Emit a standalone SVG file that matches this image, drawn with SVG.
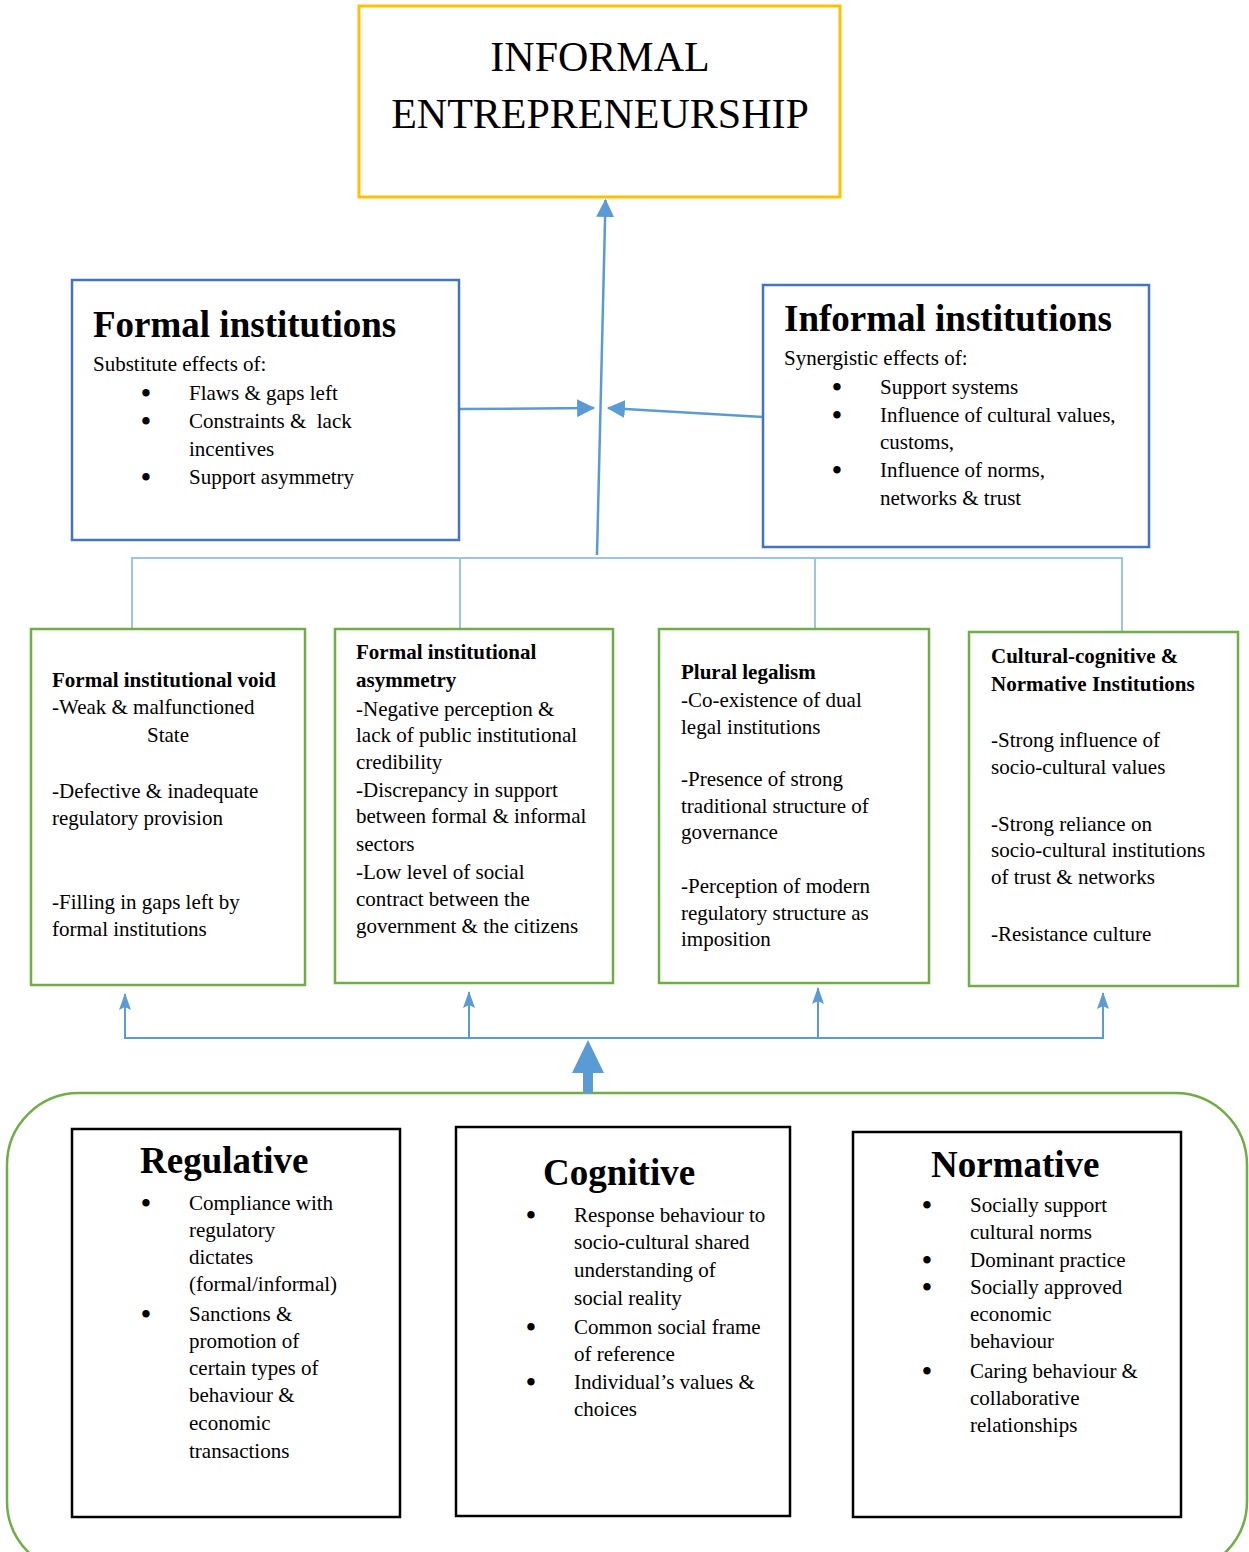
<svg xmlns="http://www.w3.org/2000/svg" width="1249" height="1552" viewBox="0 0 1249 1552">
<style>
text{font-family:"Liberation Serif","Times New Roman",serif;fill:#000;}
.t{font-size:21px;}
.b{font-weight:bold;}
.h{font-size:37px;font-weight:bold;}
.top{font-size:42px;}
.bu{font-size:31px;text-anchor:middle;}
.blue{fill:#fff;stroke:#4472C4;stroke-width:2.5;}
.green{fill:#fff;stroke:#70AD47;stroke-width:2.5;}
.black{fill:#fff;stroke:#000;stroke-width:2.5;}
.conn{stroke:#5B9BD5;stroke-width:2.5;fill:none;}
.thin{stroke:#5B9BD5;stroke-width:2;fill:none;}
.light{stroke:#9DC3E6;stroke-width:2;fill:none;}
</style>
<defs>
<marker id="ah" markerUnits="userSpaceOnUse" markerWidth="18" markerHeight="18" viewBox="0 0 16 16" refX="15" refY="8" orient="auto">
<path d="M0,0 L16,8 L0,16 Z" fill="#5B9BD5"/>
</marker>
<marker id="ahs" markerUnits="userSpaceOnUse" markerWidth="17" markerHeight="12" viewBox="0 0 17 12" refX="16" refY="6" orient="auto">
<path d="M0,0 L17,6 L0,12 L3,6 Z" fill="#5B9BD5"/>
</marker>
</defs>
<rect x="7" y="1093" width="1240" height="480" rx="72" ry="72" fill="none" stroke="#70AD47" stroke-width="2.5"/>
<g id="connectors">
<line class="conn" x1="597" y1="555" x2="605.5" y2="200" marker-end="url(#ah)"/>
<line class="conn" x1="460" y1="409" x2="594" y2="408" marker-end="url(#ah)"/>
<line class="conn" x1="763" y1="417" x2="608" y2="408" marker-end="url(#ah)"/>
<polyline class="light" points="132,628 132,558 1122,558 1122,632"/>
<line class="light" x1="460" y1="558" x2="460" y2="628"/>
<line class="light" x1="815" y1="558" x2="815" y2="628"/>
<polyline class="thin" points="125,1000 125,1038 1103,1038 1103,1000"/>
<line class="thin" x1="125" y1="1010" x2="125" y2="994" marker-end="url(#ahs)"/>
<line class="thin" x1="469" y1="1038" x2="469" y2="992" marker-end="url(#ahs)"/>
<line class="thin" x1="818" y1="1038" x2="818" y2="988" marker-end="url(#ahs)"/>
<line class="thin" x1="1103" y1="1010" x2="1103" y2="993" marker-end="url(#ahs)"/>
<path d="M583,1093 L583,1073 L572,1073 L588,1040 L604,1073 L593,1073 L593,1093 Z" fill="#5B9BD5"/>
</g>
<g id="informal-entrepreneurship">
<rect x="359" y="6" width="481" height="191" fill="#fff" stroke="#FFC000" stroke-width="3"/>
<text class="top" x="600" y="71" text-anchor="middle">INFORMAL</text>
<text class="top" x="600" y="128" text-anchor="middle">ENTREPRENEURSHIP</text>
</g>
<g id="formal-institutions">
<rect class="blue" x="72" y="280" width="387" height="260"/>
<text class="h" x="93" y="337">Formal institutions</text>
<text class="t" x="93" y="371">Substitute effects of:</text>
<text class="bu" x="146" y="404">•</text><text class="t" x="189" y="400">Flaws &amp; gaps left</text>
<text class="bu" x="146" y="432">•</text><text class="t" x="189" y="428" xml:space="preserve">Constraints &amp;  lack</text>
<text class="t" x="189" y="456">incentives</text>
<text class="bu" x="146" y="488">•</text><text class="t" x="189" y="484">Support asymmetry</text>
</g>
<g id="informal-institutions">
<rect class="blue" x="763" y="285" width="386" height="262"/>
<text class="h" x="784" y="331">Informal institutions</text>
<text class="t" x="784" y="365">Synergistic effects of:</text>
<text class="bu" x="837" y="398">•</text><text class="t" x="880" y="394">Support systems</text>
<text class="bu" x="837" y="426">•</text><text class="t" x="880" y="422">Influence of cultural values,</text>
<text class="t" x="880" y="449">customs,</text>
<text class="bu" x="837" y="481">•</text><text class="t" x="880" y="477">Influence of norms,</text>
<text class="t" x="880" y="505">networks &amp; trust</text>
</g>
<g id="institutional-void">
<rect class="green" x="31" y="629" width="274" height="356"/>
<text class="t b" x="52" y="687">Formal institutional void</text>
<text class="t" x="52" y="714">-Weak &amp; malfunctioned</text>
<text class="t" x="168" y="742" text-anchor="middle">State</text>
<text class="t" x="52" y="798">-Defective &amp; inadequate</text>
<text class="t" x="52" y="825">regulatory provision</text>
<text class="t" x="52" y="909">-Filling in gaps left by</text>
<text class="t" x="52" y="936">formal institutions</text>
</g>
<g id="institutional-asymmetry">
<rect class="green" x="335" y="629" width="278" height="354"/>
<text class="t b" x="356" y="659">Formal institutional</text>
<text class="t b" x="356" y="687">asymmetry</text>
<text class="t" x="356" y="716">-Negative perception &amp;</text>
<text class="t" x="356" y="742">lack of public institutional</text>
<text class="t" x="356" y="769">credibility</text>
<text class="t" x="356" y="797">-Discrepancy in support</text>
<text class="t" x="356" y="823">between formal &amp; informal</text>
<text class="t" x="356" y="851">sectors</text>
<text class="t" x="356" y="879">-Low level of social</text>
<text class="t" x="356" y="906">contract between the</text>
<text class="t" x="356" y="933">government &amp; the citizens</text>
</g>
<g id="plural-legalism">
<rect class="green" x="659" y="629" width="270" height="354"/>
<text class="t b" x="681" y="679">Plural legalism</text>
<text class="t" x="681" y="707">-Co-existence of dual</text>
<text class="t" x="681" y="734">legal institutions</text>
<text class="t" x="681" y="786">-Presence of strong</text>
<text class="t" x="681" y="813">traditional structure of</text>
<text class="t" x="681" y="839">governance</text>
<text class="t" x="681" y="893">-Perception of modern</text>
<text class="t" x="681" y="920">regulatory structure as</text>
<text class="t" x="681" y="946">imposition</text>
</g>
<g id="cultural-cognitive">
<rect class="green" x="969" y="632" width="269" height="354"/>
<text class="t b" x="991" y="663">Cultural-cognitive &amp;</text>
<text class="t b" x="991" y="691">Normative Institutions</text>
<text class="t" x="991" y="747">-Strong influence of</text>
<text class="t" x="991" y="774">socio-cultural values</text>
<text class="t" x="991" y="831">-Strong reliance on</text>
<text class="t" x="991" y="857">socio-cultural institutions</text>
<text class="t" x="991" y="884">of trust &amp; networks</text>
<text class="t" x="991" y="941">-Resistance culture</text>
</g>
<g id="regulative">
<rect class="black" x="72" y="1129" width="328" height="388"/>
<text class="h" x="140" y="1173">Regulative</text>
<text class="bu" x="146" y="1214">•</text><text class="t" x="189" y="1210">Compliance with</text>
<text class="t" x="189" y="1237">regulatory</text>
<text class="t" x="189" y="1264">dictates</text>
<text class="t" x="189" y="1291">(formal/informal)</text>
<text class="bu" x="146" y="1325">•</text><text class="t" x="189" y="1321">Sanctions &amp;</text>
<text class="t" x="189" y="1348">promotion of</text>
<text class="t" x="189" y="1375">certain types of</text>
<text class="t" x="189" y="1402">behaviour &amp;</text>
<text class="t" x="189" y="1430">economic</text>
<text class="t" x="189" y="1458">transactions</text>
</g>
<g id="cognitive">
<rect class="black" x="456" y="1127" width="334" height="389"/>
<text class="h" x="543" y="1185">Cognitive</text>
<text class="bu" x="531" y="1226">•</text><text class="t" x="574" y="1222">Response behaviour to</text>
<text class="t" x="574" y="1249">socio-cultural shared</text>
<text class="t" x="574" y="1277">understanding of</text>
<text class="t" x="574" y="1305">social reality</text>
<text class="bu" x="531" y="1338">•</text><text class="t" x="574" y="1334">Common social frame</text>
<text class="t" x="574" y="1361">of reference</text>
<text class="bu" x="531" y="1393">•</text><text class="t" x="574" y="1389">Individual’s values &amp;</text>
<text class="t" x="574" y="1416">choices</text>
</g>
<g id="normative">
<rect class="black" x="853" y="1132" width="328" height="385"/>
<text class="h" x="931" y="1177">Normative</text>
<text class="bu" x="927" y="1216">•</text><text class="t" x="970" y="1212">Socially support</text>
<text class="t" x="970" y="1239">cultural norms</text>
<text class="bu" x="927" y="1271">•</text><text class="t" x="970" y="1267">Dominant practice</text>
<text class="bu" x="927" y="1298">•</text><text class="t" x="970" y="1294">Socially approved</text>
<text class="t" x="970" y="1321">economic</text>
<text class="t" x="970" y="1348">behaviour</text>
<text class="bu" x="927" y="1382">•</text><text class="t" x="970" y="1378">Caring behaviour &amp;</text>
<text class="t" x="970" y="1405">collaborative</text>
<text class="t" x="970" y="1432">relationships</text>
</g>
</svg>
